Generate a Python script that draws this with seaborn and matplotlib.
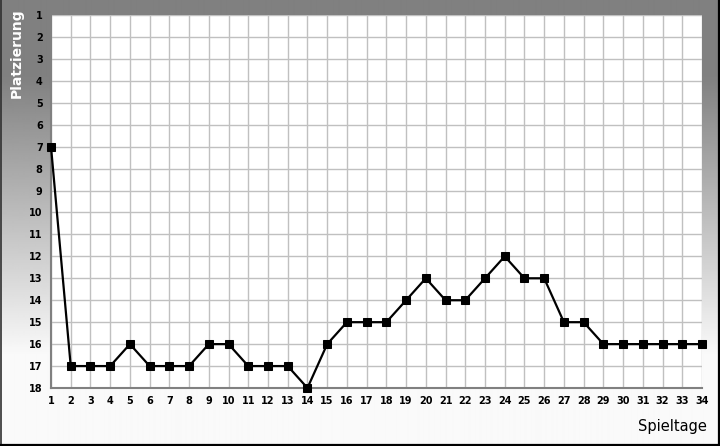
import numpy as np
import pandas as pd
import matplotlib.pyplot as plt
import seaborn as sns

# Spieltage und Platzierung
spieltage = list(range(1, 35))
platzierung = [7, 17, 17, 17, 16, 17, 17, 17, 16, 16, 17, 17, 17, 18, 16, 15, 15, 15,
               14, 13, 14, 14, 13, 12, 13, 13, 15, 15, 16, 16, 16, 16, 16, 16]
y_ticks = list(range(1, 19))

df = pd.DataFrame({'Spieltag': spieltage, 'Platz': platzierung})

sns.set_style('white')
fig = plt.figure(figsize=(7.2, 4.46), dpi=100)

# grey gradient background
bg = fig.add_axes([0, 0, 1, 1], zorder=-10)
rows = np.linspace(0, 1, 446)
vals = np.clip(128 + (rows - 0.17) / 0.63 * 122, 128, 250) / 255.0
grad = np.repeat(vals[:, None], 2, axis=1)
bg.imshow(grad, cmap='gray', vmin=0, vmax=1, aspect='auto', extent=[0, 1, 0, 1],
          origin='upper', interpolation='bilinear')
# frame: dark left, black right and bottom, none on top
bg.plot([0.0007, 0.0007], [0, 1], color='#303030', lw=1.2, transform=bg.transAxes)
bg.plot([0.9986, 0.9986], [0, 1], color='black', lw=1.6, transform=bg.transAxes)
bg.plot([0, 1], [0.0022, 0.0022], color='black', lw=1.6, transform=bg.transAxes)
bg.set_xlim(0, 1)
bg.set_ylim(0, 1)
bg.axis('off')

ax = fig.add_axes([51/720, 58/446, 651/720, 373/446])
ax.set_facecolor('white')
sns.lineplot(data=df, x='Spieltag', y='Platz', ax=ax, color='black', linewidth=1.6,
             marker='s', markersize=6, markeredgecolor='black', clip_on=False, zorder=5)
ax.set_xlim(1, 34)
ax.set_ylim(18, 1)
ax.set_xticks(spieltage)
ax.set_yticks(y_ticks)
ax.set_xticklabels([str(s) for s in spieltage], fontsize=7, fontweight='bold')
ax.set_yticklabels([str(t) for t in y_ticks], fontsize=7, fontweight='bold')
ax.tick_params(length=0, pad=6, labelcolor='black')
ax.grid(True, color='#c0c0c0', linewidth=1)
for s in ['top', 'right']:
    ax.spines[s].set_visible(False)
for s in ['left', 'bottom']:
    ax.spines[s].set_color('#808080')
    ax.spines[s].set_linewidth(1.5)
ax.set_xlabel('')
ax.set_ylabel('')

fig.text(17/720, 1 - 53/446, 'Platzierung', rotation=90, color='white', fontsize=10,
         fontweight='bold', ha='center', va='center')
fig.text(672/720, 1 - 427/446, 'Spieltage', color='black', fontsize=10.5,
         ha='center', va='center')

plt.savefig('out.png', dpi=100)
